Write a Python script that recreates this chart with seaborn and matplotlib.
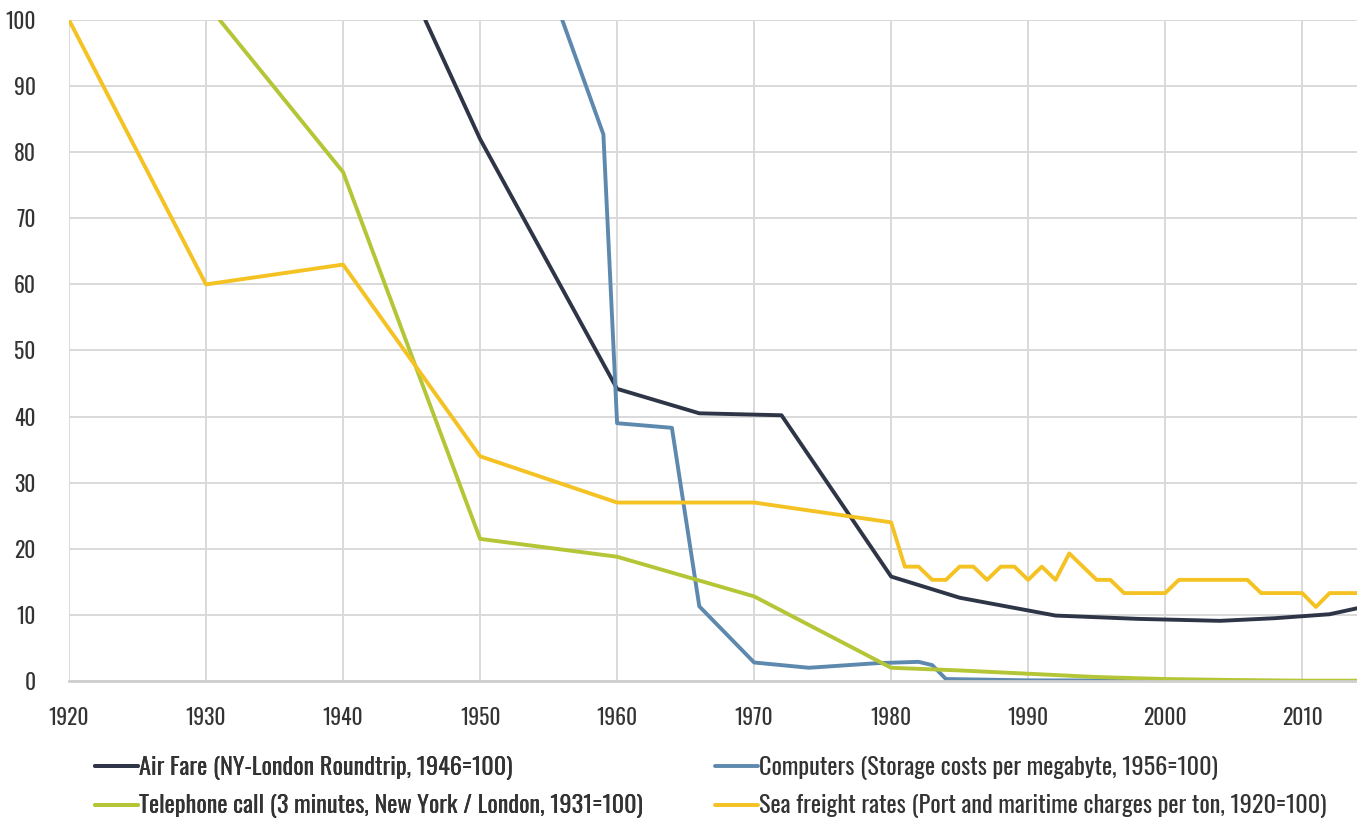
import matplotlib
matplotlib.use("Agg")
import matplotlib.pyplot as plt
import seaborn as sns
import pandas as pd

# ---- data ----
air_years = [1946, 1950, 1960, 1966, 1972, 1980, 1985, 1992, 1998, 2004, 2008, 2012, 2014]
air_vals = [100, 82, 44.2, 40.5, 40.2, 15.8, 12.6, 9.9, 9.4, 9.1, 9.5, 10.1, 11]

comp_years = [1956, 1959, 1960, 1964, 1966, 1970, 1974, 1979, 1982, 1983, 1984, 1990, 2001]
comp_vals = [100, 82.7, 39, 38.3, 11.3, 2.8, 2.0, 2.7, 2.9, 2.4, 0.3, 0.1, 0.05]

tel_years = [1931, 1940, 1950, 1960, 1966, 1970, 1980, 1985, 1990, 1995, 2000, 2005, 2010, 2014]
tel_vals = [100, 77, 21.5, 18.8, 15.2, 12.8, 2.0, 1.6, 1.1, 0.6, 0.3, 0.15, 0.05, 0.05]

sea_years = [1920, 1930, 1940, 1950, 1960, 1970, 1980, 1981, 1982, 1983, 1984, 1985, 1986,
             1987, 1988, 1989, 1990, 1991, 1992, 1993, 1995, 1996, 1997, 2000, 2001, 2006,
             2007, 2010, 2011, 2012, 2014]
sea_vals = [100, 60, 63, 34, 27, 27, 24, 17.3, 17.3, 15.3, 15.3, 17.3, 17.3,
            15.3, 17.3, 17.3, 15.3, 17.3, 15.3, 19.3, 15.3, 15.3, 13.3, 13.3, 15.3, 15.3,
            13.3, 13.3, 11.2, 13.3, 13.3]

series_names = [
    "Air Fare (NY-London Roundtrip, 1946=100)",
    "Computers (Storage costs per megabyte, 1956=100)",
    "Telephone call (3 minutes, New York / London, 1931=100)",
    "Sea freight rates (Port and maritime charges per ton, 1920=100)",
]
series_colors = ["#2e3546", "#5e89ae", "#b4c535", "#f5c223"]

x_ticks = [1920, 1930, 1940, 1950, 1960, 1970, 1980, 1990, 2000, 2010]
y_ticks = [0, 10, 20, 30, 40, 50, 60, 70, 80, 90, 100]

# ---- build long table ----
frames = []
for name, yrs, vals in zip(series_names,
                           [air_years, comp_years, tel_years, sea_years],
                           [air_vals, comp_vals, tel_vals, sea_vals]):
    frames.append(pd.DataFrame({"year": yrs, "value": vals, "series": name}))
df = pd.concat(frames, ignore_index=True)

sns.set_theme(style="white")
plt.rcParams["font.family"] = ["Oswald", "DejaVu Sans"]

fig = plt.figure(figsize=(13.57, 8.19), dpi=100)
ax = fig.add_axes([69 / 1357, (819 - 681) / 819, (1357 - 69) / 1357, 661 / 819])

sns.lineplot(data=df, x="year", y="value", hue="series", hue_order=series_names,
             palette=dict(zip(series_names, series_colors)), linewidth=2.8,
             ax=ax, legend=False, sort=False)

ax.set_xlim(1920, 2014)
ax.set_ylim(0, 100)
ax.set_xticks(x_ticks)
ax.set_yticks(y_ticks)
ax.set_xlabel("")
ax.set_ylabel("")
ax.grid(True, color="#d9d9d9", linewidth=1.4)
ax.set_axisbelow(True)
for s in ["top", "right", "left"]:
    ax.spines[s].set_visible(False)
ax.spines["bottom"].set_color("#cfcfcf")
ax.spines["bottom"].set_linewidth(2)
ax.tick_params(axis="both", length=0, labelsize=15.5, colors="#333333")
ax.tick_params(axis="y", pad=24)
ax.tick_params(axis="x", pad=19)

# ---- legends (two columns) ----
handles = [plt.Line2D([], [], color=c, linewidth=2.8) for c in series_colors]
common = dict(loc="upper left", frameon=False, fontsize=17.5, handlelength=1.75,
              handletextpad=0.08, labelspacing=0.58, borderpad=0, borderaxespad=0,
              labelcolor="#333333")
leg1 = fig.legend([handles[0], handles[2]], [series_names[0], series_names[2]],
                  bbox_to_anchor=(95 / 1357, (819 - 756) / 819), **common)
leg2 = fig.legend([handles[1], handles[3]], [series_names[1], series_names[3]],
                  bbox_to_anchor=(715 / 1357, (819 - 756) / 819), **common)
fig.add_artist(leg1)

fig.savefig("out.png", dpi=100)
